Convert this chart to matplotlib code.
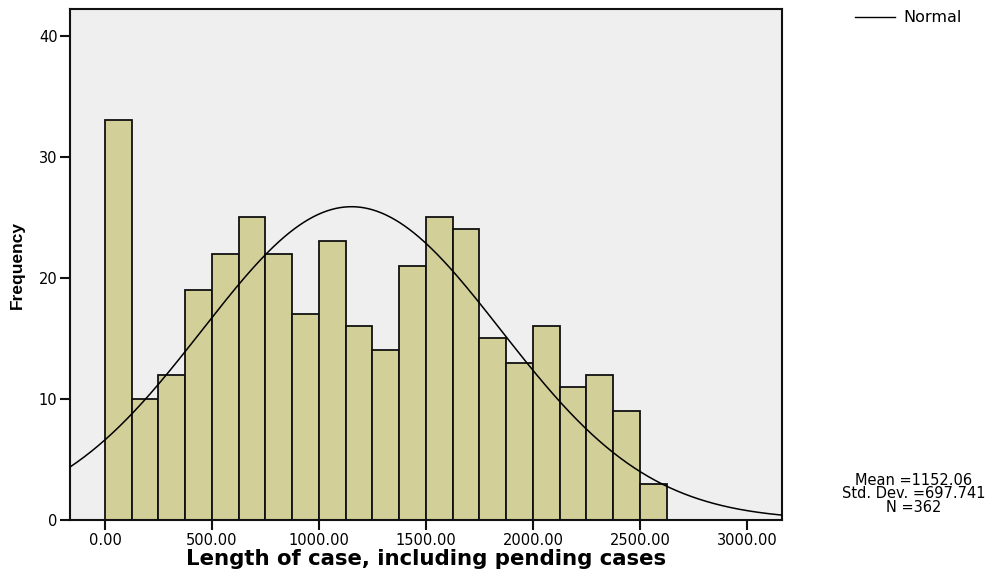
import numpy as np
import matplotlib
matplotlib.use("Agg")
import matplotlib.pyplot as plt
from matplotlib.lines import Line2D

plt.rcParams['font.family'] = ['DejaVu Sans']

bin_start = 0.0
bin_width = 125.0
counts = [33, 10, 12, 19, 22, 25, 22, 17, 23, 16, 14, 21, 25, 24, 15, 13, 16, 11, 12, 9, 3]
mean = 1152.06
std = 697.741
n = 362
xticks = [0, 500, 1000, 1500, 2000, 2500, 3000]
yticks = [0, 10, 20, 30, 40]

fig = plt.figure(figsize=(9.94, 5.71), dpi=100)
ax = fig.add_axes([70/994, 51/571, 711.6/994, 511/571])
ax.set_facecolor('#EFEFEF')

lefts = bin_start + bin_width * np.arange(len(counts))
ax.bar(lefts, counts, width=bin_width, align='edge', color='#D3CF98',
       edgecolor='#111111', linewidth=1.3, zorder=2)

xmin, xmax = -163.5, 3162
xs = np.linspace(xmin, xmax, 600)
ys = n * bin_width / (std * np.sqrt(2 * np.pi)) * np.exp(-0.5 * ((xs - mean) / std) ** 2)
ax.plot(xs, ys, color='black', linewidth=1.1, zorder=3)

ax.set_xlim(xmin, xmax)
ax.set_ylim(0, 42.2)
ax.set_xticks(xticks)
ax.set_xticklabels([f"{v:.2f}" for v in xticks], fontsize=10.5)
ax.set_yticks(yticks)
ax.set_yticklabels([str(v) for v in yticks], fontsize=10.5)
ax.tick_params(axis='both', direction='out', length=7, width=1.5, color='#111111')
ax.tick_params(axis='x', pad=2.5)
ax.tick_params(axis='y', pad=2)
for s in ax.spines.values():
    s.set_linewidth(1.5)
    s.set_color('#111111')

ax.set_xlabel('Length of case, including pending cases', fontsize=15.3,
              fontweight='bold', labelpad=0.5)
fig.text(0.017, 1 - 265/571, 'Frequency', rotation=90, fontsize=12.5, fontweight='bold',
         ha='center', va='center',
         family=['Liberation Sans Narrow', 'Liberation Sans'])

fig.add_artist(Line2D([855/994, 895/994], [1 - 17/571, 1 - 17/571],
                      color='black', linewidth=1.0))
fig.text(903/994, 1 - 18/571, 'Normal', fontsize=11.5, va='center', ha='left')

fig.text(914/994, 1 - 494/571,
         f"Mean ={mean}\nStd. Dev. ={std}\nN ={n}",
         fontsize=10.5, ha='center', va='center', linespacing=0.84)

fig.savefig('out.png', dpi=100)
